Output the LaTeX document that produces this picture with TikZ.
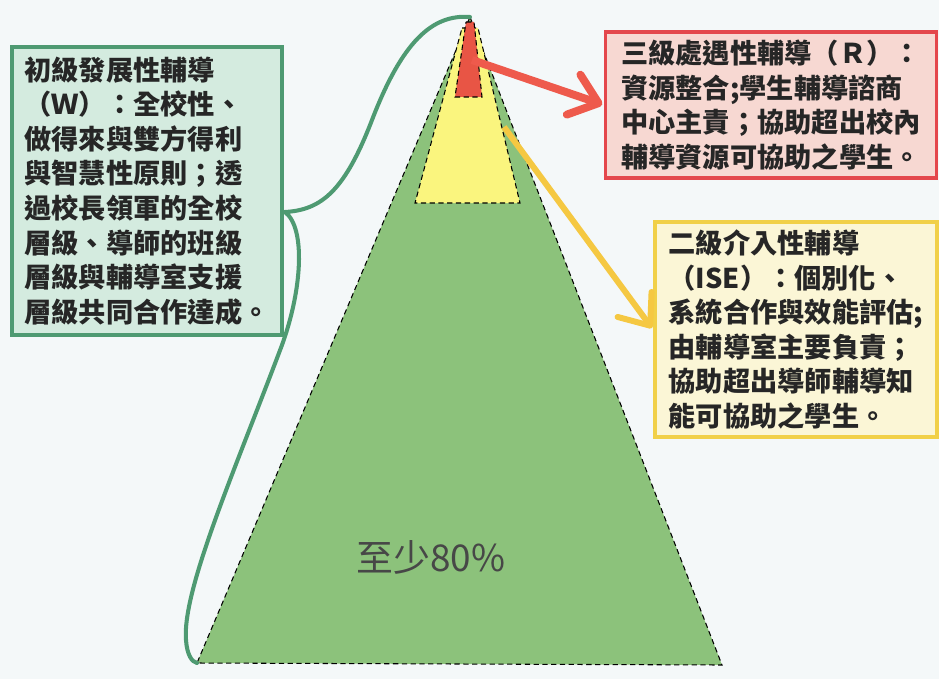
\documentclass[tikz,border=0pt]{standalone}
\usepackage{fontspec}
\usepackage{xcolor}
\usepackage{tikz}
\usetikzlibrary{arrows.meta}
\newfontfamily\cjk{Noto Sans CJK TC}
\definecolor{paper}{HTML}{F4F8F9}
\definecolor{ink}{HTML}{262626}
\definecolor{tierone}{HTML}{8CC27B}
\definecolor{tiertwo}{HTML}{FAF57E}
\definecolor{tierthree}{HTML}{E85545}
\definecolor{wfill}{HTML}{D4EBDF}
\definecolor{wline}{HTML}{4E9A72}
\definecolor{rfill}{HTML}{F7D8D2}
\definecolor{rline}{HTML}{E4474C}
\definecolor{ifill}{HTML}{FBF6D6}
\definecolor{iline}{HTML}{F1D048}
\definecolor{rarrow}{HTML}{EE5A4C}
\definecolor{iarrow}{HTML}{F5C842}
\tikzset{tier/.style={draw=black,densely dashed,line width=0.6pt},
    textbox/.style={draw,rectangle,align=left,inner sep=0pt,text=ink,
        font=\cjk\bfseries\fontsize{15.5pt}{19.7pt}\selectfont},
    wbox/.style={textbox,fill=wfill,draw=wline,line width=2.3pt,
        minimum width=5.4cm,minimum height=5.76cm},
    rbox/.style={textbox,fill=rfill,draw=rline,line width=1.8pt,
        minimum width=6.62cm,minimum height=2.92cm},
    ibox/.style={textbox,fill=ifill,draw=iline,line width=2.3pt,
        minimum width=5.64cm,minimum height=4.3cm},
    share/.style={text=ink!85,font=\cjk\fontsize{21pt}{24pt}\selectfont},
    pointer/.style={line width=4.5pt,shorten >=1pt,
        -{Straight Barb[length=15pt,width=24pt,round]}},
    brace/.style={draw=wline,line width=2.3pt,line cap=round}}
\begin{document}
\begin{tikzpicture}[x=0.02cm,y=-0.02cm]
\fill[paper] (0,0) rectangle (939,679);
\useasboundingbox (0,0) rectangle (939,679);
\coordinate (apex) at (470,17);
\coordinate (bl) at (197,663);
\coordinate (br) at (722,665);
\filldraw[tier,fill=tierone] (apex) -- (br) -- (bl) -- cycle;
\filldraw[tier,fill=tiertwo] (462,28) -- (478,28) -- (520,203) -- (415,203) -- cycle;
\filldraw[tier,fill=tierthree] (466,22) -- (474,22) -- (482,97) -- (455,97) -- cycle;
\node[wbox] (wbox) at (147,191) {初級發展性輔導\\（Ｗ）：全校性、\\做得來與雙方得利\\與智慧性原則；透\\過校長領軍的全校\\層級、導師的班級\\層級與輔導室支援\\層級共同合作達成。};
\node[rbox] (rbox) at (771,105) {三級處遇性輔導（Ｒ）：\\資源整合;學生輔導諮商\\中心主責；協助超出校內\\輔導資源可協助之學生。};
\node[ibox] (ibox) at (796,329.5) {二級介入性輔導\\（ISE）：個別化、\\系統合作與效能評估;\\由輔導室主要負責；\\協助超出導師輔導知\\能可協助之學生。};
\node[share] (share) at (431,557) {至少80\%};
\coordinate (rtail) at (472,60);
\coordinate (itail) at (504,127);
\coordinate (bp) at (285,212);
\draw[pointer,rarrow] (rtail) -- (rbox.west);
\draw[pointer,iarrow,line width=3.4pt] (itail) -- (ibox.west);
\draw[brace] (apex) .. controls (432,14) and (402,42) .. (372,120)
    .. controls (345,190) and (322,210) .. (bp)
    .. controls (306,228) and (302,290) .. (282,345)
    .. controls (235,470) and (182,590) .. (186,640)
    .. controls (187,655) and (192,662) .. (bl);
\end{tikzpicture}
\end{document}
